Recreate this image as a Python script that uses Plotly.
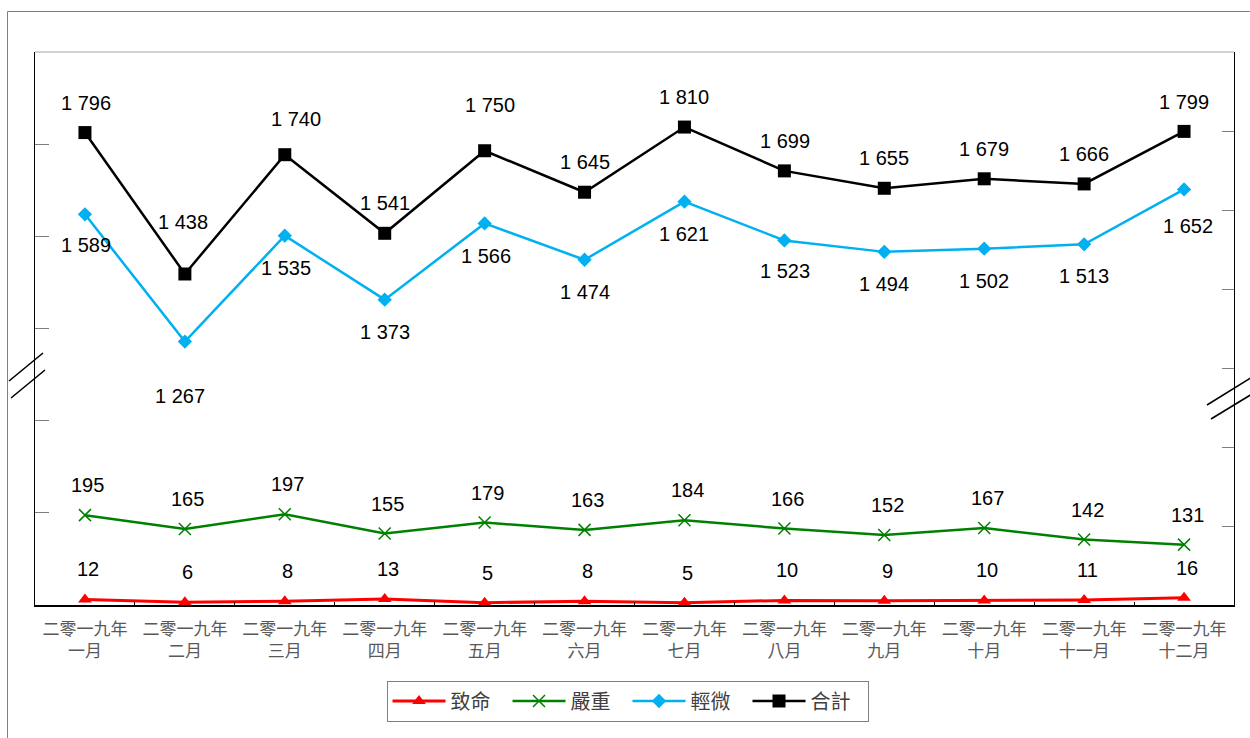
import plotly.graph_objects as go

# Monthly road-traffic casualties, 2019
year = "二零一九年"
months = ["一月", "二月", "三月", "四月", "五月", "六月",
          "七月", "八月", "九月", "十月", "十一月", "十二月"]
fatal = [12, 6, 8, 13, 5, 8, 5, 10, 9, 10, 11, 16]
serious = [195, 165, 197, 155, 179, 163, 184, 166, 152, 167, 142, 131]
slight = [1589, 1267, 1535, 1373, 1566, 1474, 1621, 1523, 1494, 1502, 1513, 1652]
total = [1796, 1438, 1740, 1541, 1750, 1645, 1810, 1699, 1655, 1679, 1666, 1799]

categories = [f"{year}<br>{m}" for m in months]

# label placement (pixel offsets from each point)
total_dx = [1, -2, 11, 0, 5, 0, 0, 1, 0, 0, 0, 0]
total_dy = [30, 52, 36, 30, 46, 30, 30, 30, 30, 30, 30, 29]
slight_dx = [1, -5, 1, 0, 1, 0, 0, 1, 0, 0, 0, 4]
slight_dy = [-31, -54, -32, -32, -33, -32, -32, -31, -32, -32, -32, -37]

FONT = "Liberation Sans, Arial, Noto Sans CJK TC, sans-serif"
L, R, T, B = 35, 16, 52, 133
W, H = 1250, 738
PW, PH = W - L - R, H - T - B


def px_x(x):
    return (x - L) / PW


def px_y(y):
    return (H - B - y) / PH


def fmt(v):
    return f"{v:,}".replace(",", " ")


fig = go.Figure()

fig.add_trace(go.Scatter(
    x=categories, y=fatal, name="致命", mode="lines+markers",
    line=dict(color="#FF0000", width=3),
    marker=dict(symbol="triangle-up", size=12, color="#FF0000"),
    yaxis="y"))
fig.add_trace(go.Scatter(
    x=categories, y=serious, name="嚴重", mode="lines+markers",
    line=dict(color="#008000", width=2.5),
    marker=dict(symbol="x-thin", size=12, color="#008000",
                line=dict(color="#008000", width=1.5)),
    yaxis="y"))
fig.add_trace(go.Scatter(
    x=categories, y=slight, name="輕微", mode="lines+markers",
    line=dict(color="#00B0F0", width=2.5),
    marker=dict(symbol="diamond", size=11, color="#00B0F0"),
    yaxis="y2"))
fig.add_trace(go.Scatter(
    x=categories, y=total, name="合計", mode="lines+markers",
    line=dict(color="#000000", width=2.5),
    marker=dict(symbol="square", size=13, color="#000000"),
    yaxis="y2"))

annotations = []
label_font = dict(family=FONT, size=20, color="#000000")
for i, c in enumerate(categories):
    annotations.append(dict(x=c, y=fatal[i], yref="y", text=fmt(fatal[i]),
                            showarrow=False, xshift=3, yshift=30, font=label_font))
    annotations.append(dict(x=c, y=serious[i], yref="y", text=fmt(serious[i]),
                            showarrow=False, xshift=3, yshift=30, font=label_font))
    annotations.append(dict(x=c, y=slight[i], yref="y2", text=fmt(slight[i]),
                            showarrow=False, xshift=slight_dx[i], yshift=slight_dy[i],
                            font=label_font))
    annotations.append(dict(x=c, y=total[i], yref="y2", text=fmt(total[i]),
                            showarrow=False, xshift=total_dx[i], yshift=total_dy[i],
                            font=label_font))

shapes = [
    # outer chart frame
    dict(type="rect", xref="paper", yref="paper",
         x0=px_x(7.5), x1=px_x(W + 20), y0=px_y(H + 20), y1=px_y(11.5),
         line=dict(color="#7F7F7F", width=1), fillcolor="rgba(0,0,0,0)", layer="below"),
    # top edge of plot area
    dict(type="line", xref="paper", yref="paper", x0=0, x1=1, y0=1, y1=1,
         line=dict(color="#A6A6A6", width=1.2)),
]
# axis break marks
for (x0, y0, x1, y1) in [(9, 381, 43, 353), (11, 398, 45, 370),
                         (1207, 405, 1262, 371), (1211, 419, 1262, 388)]:
    shapes.append(dict(type="line", xref="paper", yref="paper",
                       x0=px_x(x0), y0=px_y(y0), x1=px_x(x1), y1=px_y(y1),
                       line=dict(color="#000000", width=1.6)))

fig.update_layout(
    width=W, height=H,
    margin=dict(l=L, r=R, t=T, b=B, pad=0),
    paper_bgcolor="white", plot_bgcolor="white",
    font=dict(family=FONT, color="#000000"),
    showlegend=True,
    legend=dict(orientation="h", x=px_x(627.5), y=px_y(701),
                xanchor="center", yanchor="middle",
                bordercolor="#7F7F7F", borderwidth=1,
                font=dict(family=FONT, size=20, color="#404040"),
                itemwidth=53, entrywidth=52, tracegroupgap=0,
                traceorder="normal"),
    xaxis=dict(type="category", range=[-0.5, 11.5], tickson="boundaries",
               ticks="inside", ticklen=3, tickcolor="#000000",
               showline=True, linecolor="#000000", linewidth=1.5,
               showgrid=False, zeroline=False,
               tickfont=dict(family=FONT, size=17, color="#595959"),
               ticklabelstandoff=8),
    yaxis=dict(range=[0, 1200], dtick=200, tick0=0, ticks="inside", ticklen=14,
               tickcolor="#7F7F7F", showline=True, linecolor="#000000", linewidth=1.2,
               showgrid=False, zeroline=False, showticklabels=False),
    yaxis2=dict(range=[600, 2000], dtick=200, tick0=600, ticks="inside", ticklen=12,
                tickcolor="#7F7F7F", showline=True, linecolor="#000000", linewidth=1.2,
                showgrid=False, zeroline=False, showticklabels=False,
                overlaying="y", side="right"),
    annotations=annotations,
    shapes=shapes,
)

fig.write_html("out.html")
